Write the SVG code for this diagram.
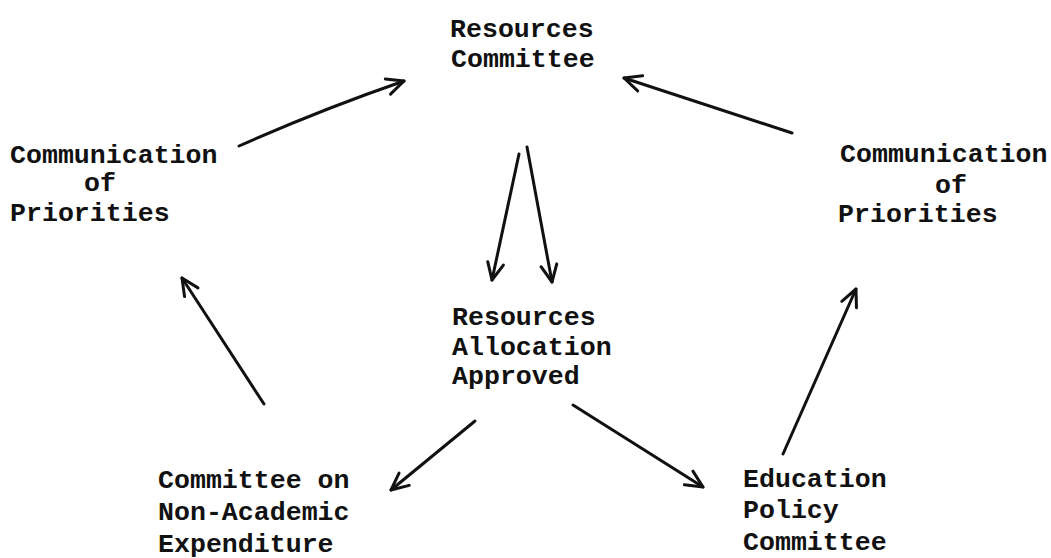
<svg xmlns="http://www.w3.org/2000/svg" width="1051" height="558" viewBox="0 0 1051 558">
  <style>
    .lbl { font-family: "Liberation Mono", "DejaVu Sans Mono", monospace; font-size: 26.6px; font-weight: bold; fill: #111; }
    .edge { fill: none; stroke: #111; stroke-width: 3; stroke-linecap: round; }
  </style>
  <defs>
    <marker id="vhead" markerUnits="userSpaceOnUse" markerWidth="40" markerHeight="40" refX="0" refY="0" viewBox="-20 -20 40 40" orient="auto" overflow="visible">
      <path d="M-17,-8 L0,0 L-17,8" fill="none" stroke="#111" stroke-width="3" stroke-linecap="round" stroke-linejoin="round"/>
    </marker>
  </defs>
  <rect width="1051" height="558" fill="#fff"/>

  <g id="resources-committee">
    <text class="lbl" x="450" y="37">Resources</text>
    <text class="lbl" x="451" y="67">Committee</text>
  </g>

  <g id="priorities-left">
    <text class="lbl" x="10" y="163">Communication</text>
    <text class="lbl" x="84" y="191">of</text>
    <text class="lbl" x="10" y="221">Priorities</text>
  </g>

  <g id="priorities-right">
    <text class="lbl" x="840" y="162">Communication</text>
    <text class="lbl" x="935" y="193">of</text>
    <text class="lbl" x="838" y="222">Priorities</text>
  </g>

  <g id="allocation-approved">
    <text class="lbl" x="452" y="325">Resources</text>
    <text class="lbl" x="452" y="355">Allocation</text>
    <text class="lbl" x="452" y="384">Approved</text>
  </g>

  <g id="non-academic">
    <text class="lbl" x="158" y="488">Committee on</text>
    <text class="lbl" x="158" y="520">Non-Academic</text>
    <text class="lbl" x="158" y="552">Expenditure</text>
  </g>

  <g id="education-policy">
    <text class="lbl" x="743" y="487">Education</text>
    <text class="lbl" x="743" y="518">Policy</text>
    <text class="lbl" x="743" y="550">Committee</text>
  </g>

  <g id="connectors">
    <path class="edge" d="M239,146 Q320,110 404,81" marker-end="url(#vhead)"/>
    <path class="edge" d="M792,133 L624,78" marker-end="url(#vhead)"/>
    <path class="edge" d="M519,154 L492,280" marker-end="url(#vhead)"/>
    <path class="edge" d="M527,147 L552,282" marker-end="url(#vhead)"/>
    <path class="edge" d="M475,421 L391,490" marker-end="url(#vhead)"/>
    <path class="edge" d="M573,405 L703,487" marker-end="url(#vhead)"/>
    <path class="edge" d="M783,454 L856,289" marker-end="url(#vhead)"/>
    <path class="edge" d="M264,404 L182,278" marker-end="url(#vhead)"/>
  </g>
</svg>
